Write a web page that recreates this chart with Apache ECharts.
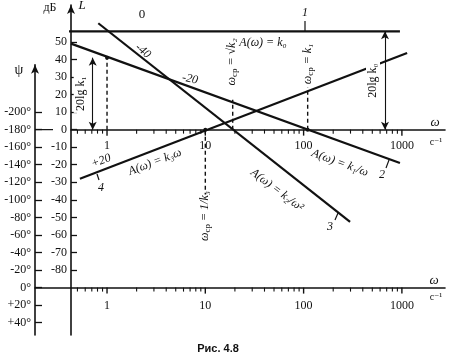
<!DOCTYPE html>
<html><head><meta charset="utf-8">
<script src="https://cdn.jsdelivr.net/npm/echarts@6/dist/echarts.min.js"></script>
<style>html,body{margin:0;padding:0;background:#fff}#c{width:455px;height:358px}</style>
</head><body><div id="c"></div>
<script>
// ---- axis ticks ----
const decadeTicks = [1, 10, 100, 1000];
const minorTicks = [0.5,0.6,0.7,0.8,0.9, 2,3,4,5,6,7,8,9, 20,30,40,50,60,70,80,90, 200,300,400,500,600,700,800,900];
const dbTicks = [50,40,30,20,10,0,-10,-20,-30,-40,-50,-60,-70,-80];
const phaseTicks = [-200,-180,-160,-140,-120,-100,-80,-60,-40,-20,0,20,40];

// ---- asymptotes: [omega, L dB] ----
const line1 = [[0.31, 56], [955, 56]];          // A(w) = k0
const line2 = [[0.43, 49], [955, -19]];         // A(w) = k1/w
const line3 = [[0.815, 60.6], [297, -52.6]];    // A(w) = k2/w^2
const line4 = [[0.53, -28], [1130, 43.6]];      // A(w) = k3 w

// ---- guide lines ----
const dashW1 = [[1, 0], [1, 41]];
const dashSqrtK2 = [[19, 0], [19, 17]];
const dashK1 = [[110, 0], [110, 24]];
const dashInvK3 = [[10, 0], [10, -37]];
const arrowK1 = [[0.715, 0], [0.715, 41]];
const arrowK0 = [[673, 0], [673, 56]];
const dots = [[1, 41], [10, 0], [110, 0]];

const W_MIN_A = 0.43, W_MIN_B = 0.185, W_MAX = 2745;
const L_MIN = -117, L_MAX = 71;
const P_MIN = -254, P_MAX = 54;
const TOP_A = 5, H_A = 330, H_B = 270.3, TOP_B = TOP_A + H_A - H_B;
const ZERO_DOWN_A = (L_MAX - 0) * H_A / (L_MAX - L_MIN);
const ZERO_DOWN_B = (0 - P_MIN) * H_B / (P_MAX - P_MIN);

const SERIF = '"Liberation Serif","DejaVu Serif",serif';
const black = '#111';

function dataXAxis(grid, minV) {
  return { type: 'log', gridIndex: grid, min: minV, max: W_MAX, show: false };
}
function labelXAxis(grid, minV, margin) {
  return { type: 'log', gridIndex: grid, min: minV, max: W_MAX, position: 'bottom',
    axisLine: { show: true, onZero: false, lineStyle: { color: black, width: 1.6 } },
    axisTick: { show: false },
    axisLabel: { show: true, customValues: decadeTicks, margin: margin, color: black,
      fontFamily: SERIF, fontSize: 12, formatter: v => String(Math.round(v)) },
    splitLine: { show: false }, minorTick: { show: false } };
}
const hiddenY = grid => ({ type: 'value', gridIndex: grid, show: false, min: 0, max: 1 });

const chart = echarts.init(document.getElementById('c'));
const lineSeries = (data, extra) => Object.assign({
  type: 'line', xAxisIndex: 0, yAxisIndex: 0, data, symbol: 'none', silent: true,
  clip: false, animation: false, lineStyle: { color: black, width: 2.2 }
}, extra || {});
const dashed = d => lineSeries(d, { lineStyle: { color: black, width: 1.4, type: [4, 3] } });
const arrowMark = (d, txt) => ({
  silent: true, symbol: ['arrow', 'arrow'], symbolSize: [6, 8],
  lineStyle: { color: black, width: 1.1, type: 'solid' },
  label: { show: true, position: 'middle', formatter: txt, backgroundColor: '#fff',
    color: black, fontFamily: SERIF, fontSize: 12, padding: [1, 2] },
  data: [[{ coord: d[0] }, { coord: d[1] }]]
});

const txt = (text, x, y, opt) => ({
  type: 'text', x, y, rotation: ((opt && opt.rot) || 0) * Math.PI / 180,
  style: Object.assign({ text, fill: black, font: 'italic 12px ' + SERIF, align: 'center', verticalAlign: 'middle' },
    (opt && opt.style) || {})
});
const seg = (x1, y1, x2, y2, w) => ({ type: 'line', shape: { x1, y1, x2, y2 }, style: { stroke: black, lineWidth: w || 1.2 } });
const wcp = rest => ({
  text: '{w|ω}{s|ср}{w|' + rest + '}',
  rich: { w: { font: 'italic 12px ' + SERIF, fill: black }, s: { font: '9px ' + SERIF, fill: black, padding: [6, 0, 0, 0] } }
});

const annotations = [
  txt('дБ', 50, 8, { style: { font: '12px ' + SERIF } }),
  txt('L', 82, 6, { style: { font: 'italic 13px ' + SERIF } }),
  txt('ψ', 19, 70, { style: { font: '14px ' + SERIF } }),
  txt('ω', 435, 123, { style: { font: 'italic 13px ' + SERIF } }),
  txt('c⁻¹', 436, 142, { style: { font: '10px ' + SERIF } }),
  txt('ω', 434, 281, { style: { font: 'italic 13px ' + SERIF } }),
  txt('c⁻¹', 436, 297, { style: { font: '10px ' + SERIF } }),
  txt('0', 142, 15, { style: { font: '13px ' + SERIF } }),
  txt('1', 305, 13),
  seg(305, 21, 305, 31),
  txt('A(ω) = k₀', 263, 43),
  txt('-40', 143, 51, { rot: -40 }),
  txt('-20', 190, 79, { rot: -12 }),
  txt('+20', 101, 161, { rot: 20 }),
  txt('A(ω) = k₃ω', 155, 162, { rot: 21 }),
  txt('A(ω) = k₂/ω²', 277, 190, { rot: -37 }),
  txt('A(ω) = k₁/ω', 340, 163, { rot: -20 }),
  txt('2', 382, 175), seg(389, 160, 386, 168),
  txt('3', 330, 227), seg(338, 213, 335, 220),
  txt('4', 101, 188), seg(97, 174, 99, 180),
  { type: 'text', x: 232, y: 62, rotation: Math.PI / 2, style: Object.assign(wcp(' = √k₂'), { align: 'center', verticalAlign: 'middle' }) },
  { type: 'text', x: 308, y: 64, rotation: Math.PI / 2, style: Object.assign(wcp(' = k₁'), { align: 'center', verticalAlign: 'middle' }) },
  { type: 'text', x: 205, y: 216, rotation: Math.PI / 2, style: Object.assign(wcp(' = 1/k₃'), { align: 'center', verticalAlign: 'middle' }) },
  seg(35, TOP_A + ZERO_DOWN_A, 53, TOP_A + ZERO_DOWN_A),
  txt('Рис. 4.8', 218, 349, { style: { font: 'bold 11px "Liberation Sans",Arial,sans-serif' } })
];

chart.setOption({
  animation: false,
  backgroundColor: '#fff',
  grid: [
    { left: 71, right: 10, top: TOP_A, height: H_A },
    { left: 35, right: 10, top: TOP_B, height: H_B },
    { left: 71, right: 10, top: TOP_A, height: ZERO_DOWN_A },
    { left: 35, right: 10, top: TOP_B, height: ZERO_DOWN_B }
  ],
  xAxis: [dataXAxis(0, W_MIN_A), dataXAxis(1, W_MIN_B), labelXAxis(2, W_MIN_A, 10), labelXAxis(3, W_MIN_B, 12)],
  yAxis: [
    { type: 'value', gridIndex: 0, min: L_MIN, max: L_MAX,
      axisLine: { show: true, onZero: false, symbol: ['none', 'arrow'], symbolSize: [6, 9], lineStyle: { color: black, width: 1.6 } },
      axisTick: { show: true, inside: true, customValues: dbTicks, length: 6, lineStyle: { color: black, width: 1.3 } },
      axisLabel: { customValues: dbTicks, margin: 4, color: black, fontFamily: SERIF, fontSize: 12 },
      splitLine: { show: false } },
    { type: 'value', gridIndex: 1, min: P_MIN, max: P_MAX, inverse: true,
      axisLine: { show: true, onZero: false, symbol: ['none', 'arrow'], symbolSize: [6, 9], lineStyle: { color: black, width: 1.6 } },
      axisTick: { show: true, inside: true, customValues: phaseTicks, length: 7, lineStyle: { color: black, width: 1.3 } },
      axisLabel: { customValues: phaseTicks, margin: 4, color: black, fontFamily: SERIF, fontSize: 12,
        formatter: v => (v > 0 ? '+' : '') + v + '°' },
      splitLine: { show: false } },
    hiddenY(2), hiddenY(3)
  ],
  series: [
    lineSeries(line1, { markLine: arrowMark(arrowK0, '20lg k₀') }),
    lineSeries(line2),
    lineSeries(line3),
    lineSeries(line4),
    dashed(dashW1), dashed(dashSqrtK2), dashed(dashK1), dashed(dashInvK3),
    lineSeries(arrowK1, { lineStyle: { width: 0, opacity: 0 }, markLine: arrowMark(arrowK1, '20lg k₁') }),
    lineSeries(dots, { symbol: 'circle', symbolSize: 4, showSymbol: true, itemStyle: { color: black },
      lineStyle: { width: 0, opacity: 0 } })
  ],
  graphic: annotations
});

// omega-axis tick marks, placed through the axes' own log scales
const tickGraphics = [];
[[0, 0], [1, 1]].forEach(([xi, yi]) => {
  const add = (vals, len, w) => vals.forEach(v => {
    const p = chart.convertToPixel({ xAxisIndex: xi, yAxisIndex: yi }, [v, 0]);
    if (p && isFinite(p[0]) && isFinite(p[1])) tickGraphics.push(seg(p[0], p[1], p[0], p[1] + len, w));
  });
  add(decadeTicks, 6, 1.4);
  add(minorTicks, 4, 1.1);
});
chart.setOption({ graphic: annotations.concat(tickGraphics) });
</script></body></html>
